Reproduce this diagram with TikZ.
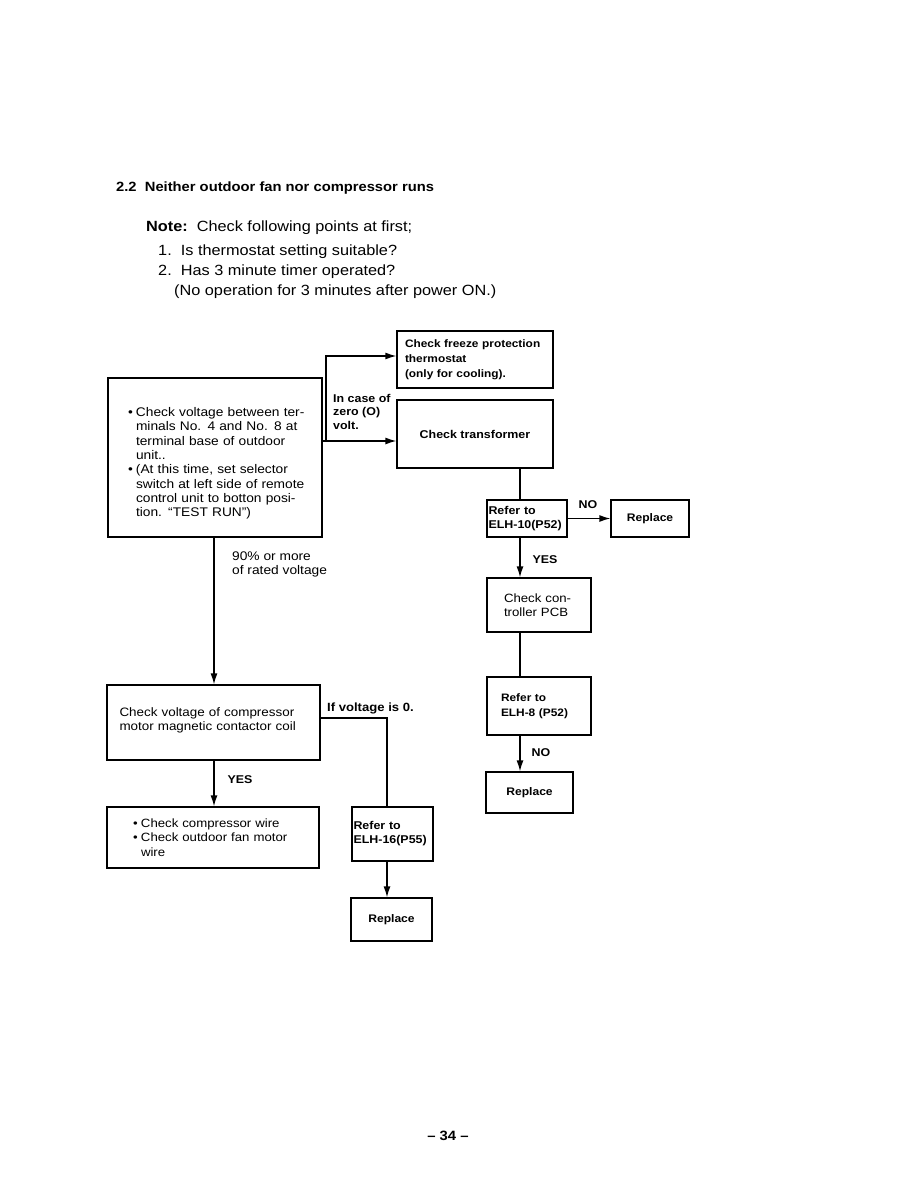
\documentclass[tikz,border=0pt]{standalone}
\usepackage{fontspec}
\setmainfont{Liberation Sans}[FakeStretch=1.1]
\usetikzlibrary{arrows.meta,positioning,calc}
\newcommand{\fs}[2]{\fontsize{#1}{#2}\selectfont}
\newcommand{\bul}{\hspace*{6pt}\makebox[8pt][l]{\textbullet}}
\newcommand{\ind}{\hspace*{14pt}}
\tikzset{
  box/.style={draw,line width=1.3pt,inner sep=0pt,font=\fs{12.5}{14.3},align=left},
  bbox/.style={box,font=\fs{11.3}{14}\bfseries},
  lab/.style={inner sep=0pt,font=\fs{12.5}{14}\selectfont,align=left},
  blab/.style={inner sep=0pt,font=\fs{11.3}{13.5}\bfseries,align=left},
  conn/.style={line width=1.3pt},
  arr/.style={line width=1.3pt,-{Latex[length=11pt,width=7pt]}},
}
\begin{document}
\begin{tikzpicture}[x=1pt,y=-1pt]
\useasboundingbox (0,0) rectangle (918,1188);
% header
\node[anchor=base west,inner sep=0pt,font=\fs{13.4}{15}\bfseries] (title) at (116,191) {2.2\ \ Neither outdoor fan nor compressor runs};
\node[anchor=base west,inner sep=0pt,font=\fs{14.8}{20}] (note) at (146,231) {\textbf{Note:}\ \ Check following points at first;};
\node[anchor=north west,inner sep=0pt,align=left,font=\fs{14.8}{20}] (items) at (158,245) {1.\ \ Is thermostat setting suitable?\\2.\ \ Has 3 minute timer operated?\\\hspace*{16pt}(No operation for 3 minutes after power ON.)};
% boxes
\node[box,minimum width=214pt,minimum height=159pt,text width=186pt] (main) at (215,457.5)
 {\rule{0pt}{21pt}\bul Check voltage between ter-\\
  \ind minals No. 4 and No. 8 at\\
  \ind terminal base of outdoor\\
  \ind unit..\\
  \bul (At this time, set selector\\
  \ind switch at left side of remote\\
  \ind control unit to botton posi-\\
  \ind tion. ``TEST RUN'')};
\node[bbox,minimum width=156pt,minimum height=57pt,text width=140pt,font=\fs{10.8}{14.8}\bfseries] (freeze) at (475,359.5)
 {Check freeze protection\\thermostat\\(only for cooling).};
\node[bbox,minimum width=156pt,minimum height=68pt,align=center] (trans) at (475,434) {Check transformer};
\node[bbox,minimum width=80pt,minimum height=37pt,text width=77pt] (elh10) at (527,518.5) {Refer to\\ELH-10(P52)};
\node[bbox,minimum width=78pt,minimum height=37pt,align=center,font=\fs{11}{14}\bfseries] (rep1) at (650,518.5) {Replace};
\node[box,minimum width=104pt,minimum height=54pt,text width=70pt,font=\fs{12}{14.5}] (pcb) at (539,605) {Check con-\\troller PCB};
\node[bbox,minimum width=104pt,minimum height=58pt,text width=76pt,font=\fs{10.8}{14.5}\bfseries] (elh8) at (539,706) {Refer to\\ELH-8 (P52)};
\node[bbox,minimum width=87pt,minimum height=41pt,align=center,font=\fs{11}{14}\bfseries] (rep2) at (529.5,792.5) {Replace};
\node[box,minimum width=213pt,minimum height=75pt,text width=188pt,font=\fs{12.2}{14.3}] (comp) at (213.5,722.5) {Check voltage of compressor\\motor magnetic contactor coil\\[-8pt]\mbox{}};
\node[box,minimum width=212pt,minimum height=61pt,text width=160pt,font=\fs{12}{14.3}] (wire) at (213,837.5)
 {\makebox[8pt][l]{\textbullet}Check compressor wire\\
  \makebox[8pt][l]{\textbullet}Check outdoor fan motor\\
  \hspace*{8pt}wire};
\node[bbox,minimum width=81pt,minimum height=54pt,text width=78pt] (elh16) at (392.5,834) {Refer to\\ELH-16(P55)};
\node[bbox,minimum width=81pt,minimum height=43pt,align=center,font=\fs{11}{14}\bfseries] (rep3) at (391.5,919.5) {Replace};
% connectors
\coordinate (jlow) at (326,441);
\coordinate (jup) at (326,356);
\draw[arr] (main.east |- jlow) -- (trans.west |- jlow);
\draw[arr] (jlow) -- (jup) -- (freeze.west |- jup);
\draw[conn] (trans.south -| 520,0) -- (elh10.north -| 520,0);
\draw[arr] (elh10.east) -- (rep1.west);
\draw[arr] (elh10.south -| 520,0) -- (pcb.north -| 520,0);
\draw[conn] (pcb.south -| 520,0) -- (elh8.north -| 520,0);
\draw[arr] (elh8.south -| 520,0) -- (rep2.north -| 520,0);
\draw[arr] (main.south -| 214,0) -- (comp.north -| 214,0);
\draw[arr] (comp.south -| 214,0) -- (wire.north -| 214,0);
\coordinate (jc) at (387,718);
\draw[conn] (comp.east |- jc) -- (jc) -- (elh16.north -| jc);
\draw[arr] (elh16.south -| jc) -- (rep3.north -| jc);
% labels
\node[blab,anchor=north west] (l1) at (333,394) {In case of\\zero (O)\\volt.};
\node[blab] (l2) at (588,505) {NO};
\node[blab] (l3) at (545,560) {YES};
\node[blab] (l4) at (541,753) {NO};
\node[blab] (l5) at (240,780) {YES};
\node[lab,anchor=north west] (l6) at (232,552) {90\% or more\\of rated voltage};
\node[blab,anchor=base west,font=\fs{11.9}{14}\bfseries] (l7) at (327,711) {If voltage is 0.};
% page number
\node[inner sep=0pt,font=\fs{13.5}{15}\bfseries] (pg) at (448,1136) {-- 34 --};
\end{tikzpicture}
\end{document}
